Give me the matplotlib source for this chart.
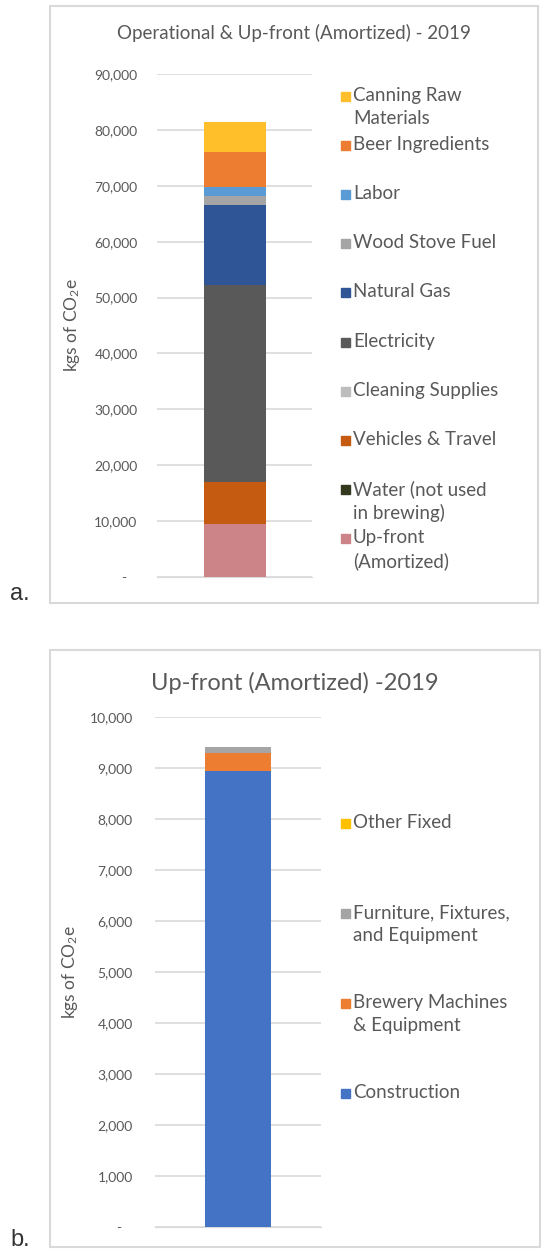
import matplotlib
matplotlib.use("Agg")
import matplotlib.pyplot as plt
from matplotlib.patches import Rectangle
from matplotlib.ticker import FuncFormatter

plt.rcParams['font.family'] = ['Lato', 'DejaVu Sans']
plt.rcParams['mathtext.fontset'] = 'custom'
plt.rcParams['mathtext.rm'] = 'Lato'
plt.rcParams['mathtext.it'] = 'Lato'

W, H = 542, 1250
GREY_TXT = '#595959'
GRID = '#D9D9D9'

# panel a: operational + amortized up-front, stacked bottom -> top
ops_labels = ['Up-front\n(Amortized)', 'Water (not used\nin brewing)', 'Vehicles & Travel',
              'Cleaning Supplies', 'Electricity', 'Natural Gas', 'Wood Stove Fuel',
              'Labor', 'Beer Ingredients', 'Canning Raw\nMaterials']
ops_values = [9400, 60, 7500, 30, 35310, 14300, 1500, 1700, 6200, 5400]
ops_colors = ['#CD8489', '#33391F', '#C55A11', '#BDBDBD', '#595959', '#2F5597',
              '#A5A5A5', '#5B9BD5', '#ED7D31', '#FFBF2A']
ops_ticks = list(range(0, 90001, 10000))

# panel b: amortized up-front breakdown, bottom -> top
up_labels = ['Construction', 'Brewery Machines\n& Equipment',
             'Furniture, Fixtures,\nand Equipment', 'Other Fixed']
up_values = [8940, 350, 115, 5]
up_colors = ['#4472C4', '#ED7D31', '#A5A5A5', '#FFC000']
up_ticks = list(range(0, 10001, 1000))


def fx(px):
    return px / W


def fy(py):
    return 1 - py / H


def fmt(v, pos):
    return '-   ' if v == 0 else f'{int(v):,}'


def panel(fig, box, axbox, title, title_y, title_size, labels, values, colors,
          ticks, legend_rows, ylabel_x, pad):
    # outer chart frame
    x0, y0, x1, y1 = box
    fig.patches.append(Rectangle((fx(x0), fy(y1)), fx(x1 - x0), (y1 - y0) / H,
                                 transform=fig.transFigure, fill=False,
                                 edgecolor=GRID, linewidth=1.5))
    l, t, r, b = axbox
    ax = fig.add_axes([fx(l), fy(b), fx(r - l), (b - t) / H])
    bottom = 0
    for v, c in zip(values, colors):
        ax.bar(0, v, bottom=bottom, width=0.4, color=c, zorder=3)
        bottom += v
    ax.set_xlim(-0.5, 0.5)
    ax.set_ylim(ticks[0], ticks[-1])
    ax.set_yticks(ticks)
    ax.yaxis.set_major_formatter(FuncFormatter(fmt))
    ax.tick_params(axis='y', length=0, pad=pad, labelsize=10, labelcolor=GREY_TXT)
    ax.set_xticks([])
    ax.grid(axis='y', color=GRID, linewidth=1.2, zorder=0)
    for s in ax.spines.values():
        s.set_visible(False)
    ax.spines['bottom'].set_visible(True)
    ax.spines['bottom'].set_color(GRID)

    fig.text(fx((x0 + x1) / 2), fy(title_y), title, ha='center', va='center',
             fontsize=title_size, color=GREY_TXT)
    fig.text(fx(ylabel_x), fy((t + b) / 2), r'kgs of CO$_2$e', rotation=90,
             ha='center', va='center', fontsize=12.5, color=GREY_TXT)

    # legend, top entry first, marker beside the first text line
    for lab, c, row in zip(labels[::-1], colors[::-1], legend_rows):
        fig.patches.append(Rectangle((fx(341), fy(row + 5)), fx(9), 9 / H,
                                     transform=fig.transFigure, color=c))
        fig.text(fx(353), fy(row - 9), lab, ha='left', va='top', fontsize=13.5,
                 color=GREY_TXT, linespacing=1.42)
    return ax


fig = plt.figure(figsize=(W / 100, H / 100), dpi=100)

panel(fig, (50, 6, 538, 603), (157, 74, 312, 577),
      'Operational & Up-front (Amortized) - 2019', 33, 13.5,
      ops_labels, ops_values, ops_colors, ops_ticks,
      [96 + 49.1 * i for i in range(10)], 72, 14)

panel(fig, (50, 650, 540, 1247), (155, 717, 321, 1227),
      'Up-front (Amortized) -2019', 683, 17,
      up_labels, up_values, up_colors, up_ticks,
      [823, 913, 1003, 1093], 70, 16)

fig.text(fx(10), fy(600), 'a.', fontsize=17, color='#333333', ha='left', va='baseline',
         family=['Liberation Sans'])
fig.text(fx(10), fy(1246), 'b.', fontsize=17, color='#333333', ha='left', va='baseline',
         family=['Liberation Sans'])

fig.savefig('out.png', dpi=100)
